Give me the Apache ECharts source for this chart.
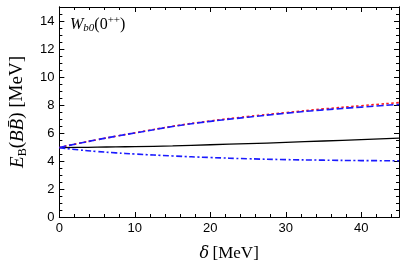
<!DOCTYPE html>
<html>
<head>
<meta charset="utf-8">
<script src="https://cdn.jsdelivr.net/npm/echarts@6/dist/echarts.min.js"></script>
<style>html,body{margin:0;padding:0;background:#fff}#c{width:415px;height:269px}</style>
</head>
<body>
<div id="c"></div>
<script>
var delta = [0, 2.5, 5, 7.5, 10, 15, 20, 25, 30, 35, 40, 45];
var redDotted = [4.97, 5.25, 5.52, 5.77, 6.01, 6.48, 6.86, 7.18, 7.46, 7.72, 7.95, 8.17];
var blueDashed = [4.97, 5.25, 5.52, 5.77, 6.0, 6.46, 6.83, 7.13, 7.41, 7.65, 7.85, 8.04];
var blackSolid = [4.95, 4.97, 4.99, 5.01, 5.03, 5.08, 5.16, 5.24, 5.33, 5.43, 5.53, 5.64];
var blueDashDot = [4.95, 4.8, 4.68, 4.58, 4.5, 4.36, 4.25, 4.16, 4.1, 4.06, 4.03, 4.02];
var xTicks = [0, 10, 20, 30, 40];
var yTicks = [0, 2, 4, 6, 8, 10, 12, 14];

function pairs(ys){ return delta.map(function(d,i){ return [d, ys[i]]; }); }

var chart = echarts.init(document.getElementById('c'), null, {renderer:'canvas'});
function xAx(pos, interval, len, labels, extra){
  var a = {type:'value', position:pos, min:0, max:45, interval:interval,
    axisLine:{show:true, onZero:false, lineStyle:{color:'#000', width:1}},
    axisTick:{show:true, inside:true, length:len, lineStyle:{color:'#000', width:1}},
    axisLabel:{show:labels, color:'#000', fontFamily:'Liberation Sans', fontSize:13, margin:5, showMaxLabel:false},
    splitLine:{show:false}};
  return Object.assign(a, extra||{});
}
function yAx(pos, interval, len, labels, extra){
  var a = {type:'value', position:pos, min:0, max:15, interval:interval,
    axisLine:{show:true, onZero:false, lineStyle:{color:'#000', width:1}},
    axisTick:{show:true, inside:true, length:len, lineStyle:{color:'#000', width:1}},
    axisLabel:{show:labels, color:'#000', fontFamily:'Liberation Sans', fontSize:13, margin:5, showMaxLabel:false},
    splitLine:{show:false}};
  return Object.assign(a, extra||{});
}

var option = {
  animation:false,
  grid:{left:58, right:16, top:7, bottom:52, containLabel:false},
  xAxis:[
    xAx('bottom', 10, 5, true, {
      name:'{i|δ} {n|[MeV]}', nameLocation:'middle', nameGap:28,
      nameTextStyle:{rich:{i:{fontFamily:'DejaVu Serif', fontStyle:'italic', fontSize:16, color:'#000'}, n:{fontFamily:'Liberation Serif', fontSize:17, color:'#000'}}}
    }),
    xAx('bottom', 2, 3, false),
    xAx('top', 10, 5, false),
    xAx('top', 2, 3, false)
  ],
  yAxis:[
    yAx('left', 2, 5, true, {
      name:'{i|E}{s|B}{n|(}{i|B}{i|B\u0304}{n|) [MeV]}', nameLocation:'middle', nameGap:30, nameRotate:90,
      nameTextStyle:{rich:{
        i:{fontFamily:'Liberation Serif', fontStyle:'italic', fontSize:19, color:'#000', lineHeight:23, verticalAlign:'middle'},
        s:{fontFamily:'Liberation Serif', fontSize:12, color:'#000', lineHeight:23, verticalAlign:'bottom'},
        n:{fontFamily:'Liberation Serif', fontSize:19, color:'#000', lineHeight:23, verticalAlign:'middle'}}}
    }),
    yAx('left', 0.5, 3, false),
    yAx('right', 2, 5, false),
    yAx('right', 0.5, 3, false)
  ],
  graphic:[{
    type:'text', left:70, top:15,
    style:{
      text:'{i|W}{s|b0}{n|(0}{p|++}{n|)}',
      rich:{
        i:{fontFamily:'Liberation Serif', fontStyle:'italic', fontSize:16, color:'#000', lineHeight:19, verticalAlign:'middle'},
        s:{fontFamily:'Liberation Serif', fontStyle:'italic', fontSize:11, color:'#000', lineHeight:19, verticalAlign:'bottom'},
        n:{fontFamily:'Liberation Serif', fontSize:16, color:'#000', lineHeight:19, verticalAlign:'middle'},
        p:{fontFamily:'Liberation Serif', fontSize:11, color:'#000', lineHeight:19, verticalAlign:'top'}
      }
    }
  }],
  series:[
    {type:'line', data:pairs(blackSolid), smooth:true, symbol:'none', xAxisIndex:0, yAxisIndex:0,
      lineStyle:{color:'#000', width:1.3}},
    {type:'line', data:pairs(blueDashDot), smooth:true, symbol:'none', xAxisIndex:0, yAxisIndex:0,
      lineStyle:{color:'#1a1aff', width:1.6, type:[6,2.5,2,2.5]}},
    {type:'line', data:pairs(redDotted), smooth:true, symbol:'none', xAxisIndex:0, yAxisIndex:0,
      lineStyle:{color:'#ff1a1a', width:1.6, type:[2.5,2.5]}},
    {type:'line', data:pairs(blueDashed), smooth:true, symbol:'none', xAxisIndex:0, yAxisIndex:0,
      lineStyle:{color:'#1a1aff', width:1.6, type:[7,3]}}
  ]
};
chart.setOption(option);
</script>
</body>
</html>
